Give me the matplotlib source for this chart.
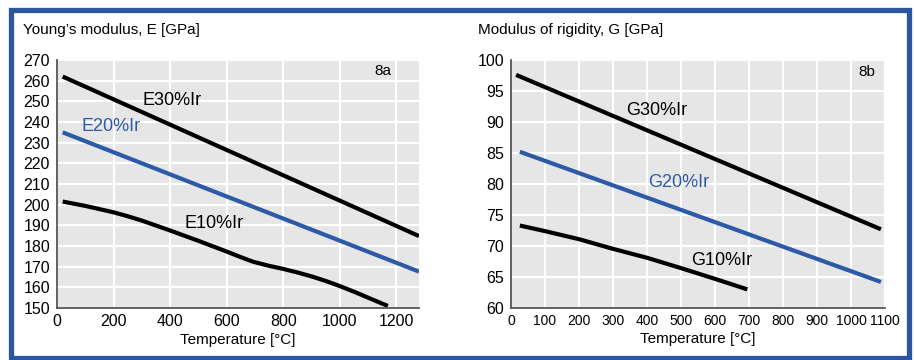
import matplotlib
matplotlib.use("Agg")
import matplotlib.pyplot as plt
from matplotlib.patches import Rectangle

plt.rcParams['font.family'] = ['Liberation Sans', 'DejaVu Sans']

# Young's modulus data (temperature in C, E in GPa)
e30_t = [20, 1280]
e30_v = [262, 184.8]
e20_t = [20, 1280]
e20_v = [235, 167.6]
e10_t = [20, 100, 200, 250, 300, 400, 500, 600, 650, 693, 750, 800, 850, 900, 950, 1000, 1050, 1100, 1150, 1170]
e10_v = [201.5, 199.4, 196.3, 194.4, 192.3, 187.5, 182.5, 177.3, 174.6, 172.4, 170.4, 168.9, 167.2, 165.3, 163.1, 160.6, 157.9, 155.0, 152.1, 151]

# Modulus of rigidity data (temperature in C, G in GPa)
g30_t = [15, 1088]
g30_v = [97.6, 72.7]
g20_t = [26, 1088]
g20_v = [85.2, 64.2]
g10_t = [26, 100, 200, 296, 400, 502, 600, 695]
g10_v = [73.3, 72.4, 71.1, 69.6, 68.1, 66.4, 64.7, 63.0]

e_yticks = list(range(150, 271, 10))
e_xticks = [0, 200, 400, 600, 800, 1000, 1200]
g_yticks = list(range(60, 101, 5))
g_xticks = list(range(0, 1101, 100))

BLUE = '#2d5aa6'
BG = '#e6e6e6'
W, H = 914, 360

fig = plt.figure(figsize=(W / 100, H / 100), dpi=100)
fig.patch.set_facecolor('white')

# blue frame round both panels
fig.patches.append(Rectangle((10.5 / W, 1 - 357.5 / H), (909 - 10.5) / W, (357.5 - 9.5) / H,
                             transform=fig.transFigure, fill=False, lw=3.8,
                             edgecolor='#2c56a0', zorder=0))


def make_ax(x0, x1, y0, y1):
    ax = fig.add_axes([x0 / W, 1 - y1 / H, (x1 - x0) / W, (y1 - y0) / H])
    ax.set_facecolor(BG)
    ax.grid(True, color='white', lw=1.5)
    ax.set_axisbelow(True)
    for s in ['top', 'right']:
        ax.spines[s].set_visible(False)
    for s in ['left', 'bottom']:
        ax.spines[s].set_color('#555555')
        ax.spines[s].set_linewidth(1.3)
    ax.tick_params(length=0, labelsize=11.5, colors='black')
    ax.tick_params(axis='y', pad=5)
    ax.tick_params(axis='x', pad=4)
    ax.set_xlabel('Temperature [°C]', fontsize=11, labelpad=3)
    return ax


# left panel
ax1 = make_ax(57, 419, 60, 308)
ax1.plot(e30_t, e30_v, color='black', lw=3, solid_capstyle='butt')
ax1.plot(e20_t, e20_v, color=BLUE, lw=3, solid_capstyle='butt')
ax1.plot(e10_t, e10_v, color='black', lw=3, solid_capstyle='butt')
ax1.set_xlim(0, 1280)
ax1.set_ylim(150, 270)
ax1.set_xticks(e_xticks)
ax1.set_yticks(e_yticks)
ax1.text(304, 250.6, 'E30%Ir', fontsize=13, va='center')
ax1.text(85, 238, 'E20%Ir', fontsize=13, va='center', color=BLUE)
ax1.text(452, 191.1, 'E10%Ir', fontsize=13, va='center')
ax1.text(1182, 264.7, '8a', fontsize=11, va='center', ha='right')
fig.text(23 / W, 1 - 30 / H, 'Young’s modulus, E [GPa]', fontsize=11, va='center')

# right panel
ax2 = make_ax(511, 885, 60, 308)
ax2.plot(g30_t, g30_v, color='black', lw=3, solid_capstyle='butt')
ax2.plot(g20_t, g20_v, color=BLUE, lw=3, solid_capstyle='butt')
ax2.plot(g10_t, g10_v, color='black', lw=3, solid_capstyle='butt')
ax2.set_xlim(0, 1100)
ax2.set_ylim(60, 100)
ax2.set_xticks(g_xticks)
ax2.set_yticks(g_yticks)
ax2.tick_params(axis='x', labelsize=10)
ax2.text(340, 91.9, 'G30%Ir', fontsize=13, va='center')
ax2.text(403, 80.2, 'G20%Ir', fontsize=13, va='center', color=BLUE)
ax2.text(529, 67.7, 'G10%Ir', fontsize=13, va='center')
ax2.text(1072, 98, '8b', fontsize=11, va='center', ha='right')
fig.text(478 / W, 1 - 30 / H, 'Modulus of rigidity, G [GPa]', fontsize=11, va='center')

fig.savefig('out.png', dpi=100)
